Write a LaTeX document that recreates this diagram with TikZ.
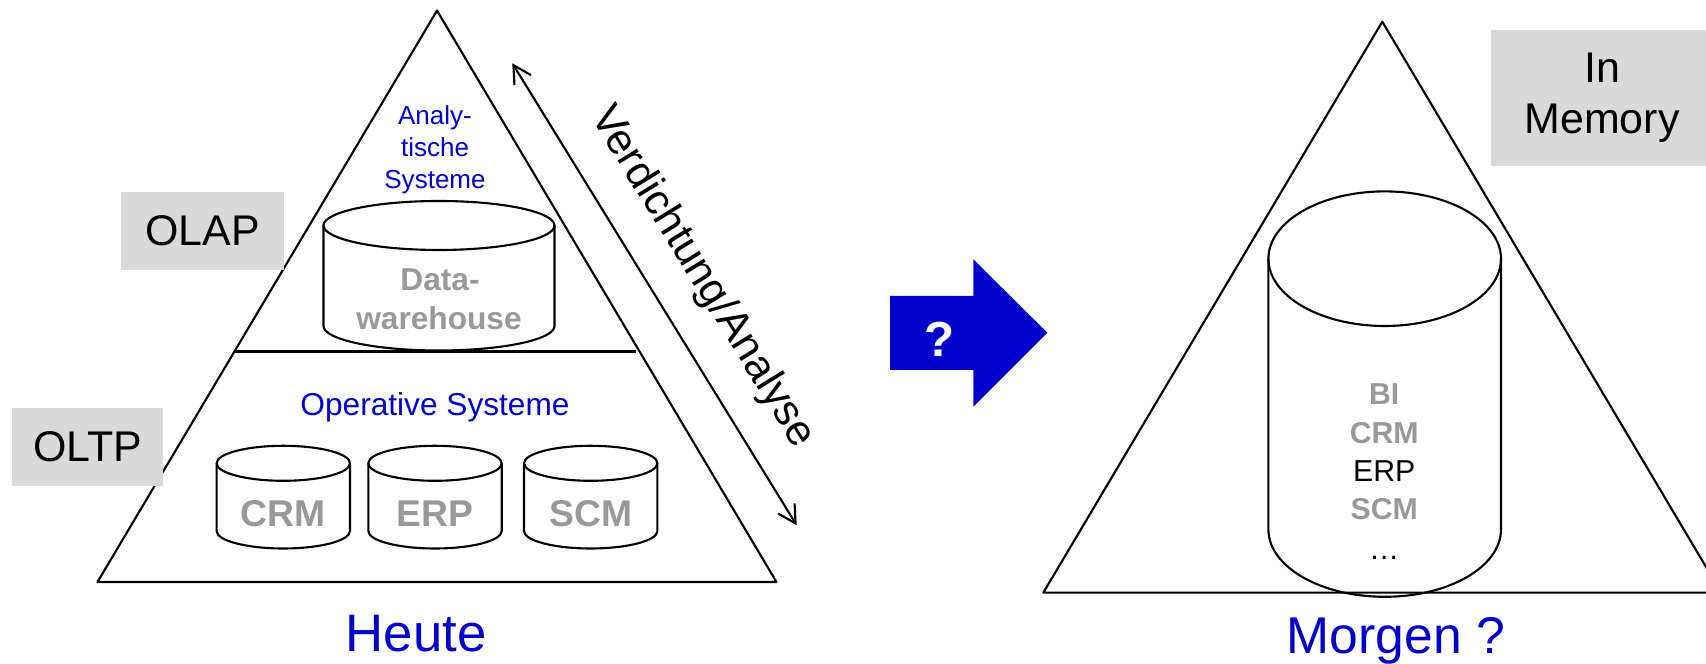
\documentclass[tikz,border=0pt]{standalone}
\usepackage{fontspec}
\setmainfont{Liberation Sans}
\usetikzlibrary{arrows.meta}
\definecolor{boxgray}{HTML}{D9D9D9}
\definecolor{txtgray}{HTML}{999999}
\definecolor{myblue}{HTML}{0000CC}
\newcommand\fsz[1]{\fontsize{#1}{#1}\selectfont}
% cylinder: cx, topY, botY, rx, ry
\newcommand\dbcyl[5]{%
  \draw[cylline] (#1-#4,#2) -- (#1-#4,#3) arc[start angle=180,end angle=360,x radius=#4,y radius=#5] -- (#1+#4,#2);
  \draw[cylline] (#1,#2) ellipse[x radius=#4,y radius=#5];
}
\begin{document}
\begin{tikzpicture}[x=0.01cm,y=0.01cm,line join=round,
  tri/.style={draw,line width=0.6pt},
  cylline/.style={draw,line width=0.6pt},
  grbox/.style={fill=boxgray,draw=none,inner sep=0pt},
  lab/.style={inner sep=0pt,anchor=base},
  bigtxt/.style={font=\fsz{12.2}},
  bluelab/.style={lab,text=myblue},
  cylbold/.style={lab,text=txtgray,font=\bfseries\fsz{10.6}},
  smallbold/.style={lab,text=txtgray,font=\bfseries\fsz{8.6}},
  dwbold/.style={lab,text=txtgray,font=\bfseries\fsz{9}},
]
\useasboundingbox (0,0) rectangle (1706,664);

% ---------- left pyramid ----------
\coordinate (lapex) at (437,653.4);
\coordinate (lbl) at (97.5,82);
\coordinate (lbr) at (776.5,82);
\draw[tri] (lbl) -- (lapex) -- (lbr) -- cycle;
\coordinate (divl) at (234.5,312.5);
\coordinate (divr) at (636,312.5);
\draw[line width=0.8pt] (divl) -- (divr);

% gray boxes
\node[grbox,bigtxt,minimum width=1.63cm,minimum height=0.777cm] (olap) at (202.5,433.15) {OLAP};
\node[grbox,bigtxt,minimum width=1.51cm,minimum height=0.78cm] (oltp) at (87.5,217) {OLTP};

% analytic systems label
\node[bluelab,font=\fsz{7.4}] (an1) at (435,539) {Analy-};
\node[bluelab,font=\fsz{7.4}] (an2) at (435,507.3) {tische};
\node[bluelab,font=\fsz{7.4}] (an3) at (435,475.6) {Systeme};

% data warehouse
\dbcyl{439}{438.5}{338}{115.5}{24.5}
\node[dwbold] (dw1) at (440,373.3) {Data-};
\node[dwbold] (dw2) at (439,334.7) {warehouse};

% operative systems
\node[bluelab,font=\fsz{9}] (ops) at (435,248) {Operative Systeme};
\dbcyl{283.3}{200.7}{133}{66.7}{17.5}
\dbcyl{435}{200.7}{133}{66.7}{17.5}
\dbcyl{590.7}{200.7}{133}{66.7}{17.5}
\node[cylbold] (crm) at (283.3,137.3) {CRM};
\node[cylbold] (erp) at (435,137.3) {ERP};
\node[cylbold] (scm) at (590.7,137.3) {SCM};

% Verdichtung arrow
\coordinate (vtop) at (512.3,600.7);
\coordinate (vbot) at (796.7,138.7);
\draw[line width=0.6pt,{Straight Barb[length=5pt,width=5.5pt]}-{Straight Barb[length=5pt,width=5.5pt]}] (vtop) -- (vbot);
\node[bigtxt,inner sep=0pt,rotate=-58.4] (verd) at (702,387) {Verdichtung/Analyse};

\node[lab,text=myblue,font=\fsz{15}] (heute) at (416,12.3) {Heute};

% ---------- blue arrow ----------
\fill[myblue] (890,368) -- (973.3,368) -- (973.3,404.7) -- (1047.3,331.3) -- (973.3,257.3) -- (973.3,294) -- (890,294) -- cycle;
\node[lab,text=white,font=\bfseries\fsz{14}] (q) at (940,307.3) {?};

% ---------- right pyramid ----------
\begin{scope}
\clip (0,0) rectangle (1706,664);
\coordinate (rapex) at (1382.3,642.3);
\coordinate (rbl) at (1043.3,71.3);
\coordinate (rbr) at (1721.3,71.3);
\draw[tri] (rbl) -- (rapex) -- (rbr) -- cycle;
\node[grbox,minimum width=2.24cm,minimum height=1.357cm,anchor=south west] (inmem) at (1490,497.3) {};
\end{scope}
\node[lab,bigtxt] (in1) at (1602,581.5) {In};
\node[lab,bigtxt] (in2) at (1602,530) {Memory};

\dbcyl{1384.7}{405.3}{134.5}{116.3}{67.3}
\node[smallbold] (bi) at (1384.2,259) {BI};
\node[smallbold] (crm2) at (1384.2,220.7) {CRM};
\node[lab,font=\fsz{8.6}] (erp2) at (1384.2,182.3) {ERP};
\node[smallbold] (scm2) at (1384.2,144) {SCM};
\node[lab,font=\fsz{8.6}] (dots) at (1384.2,104) {\ldots};

\node[lab,text=myblue,font=\fsz{14.7}] (morgen) at (1395.8,10.7) {Morgen ?};
\end{tikzpicture}
\end{document}
